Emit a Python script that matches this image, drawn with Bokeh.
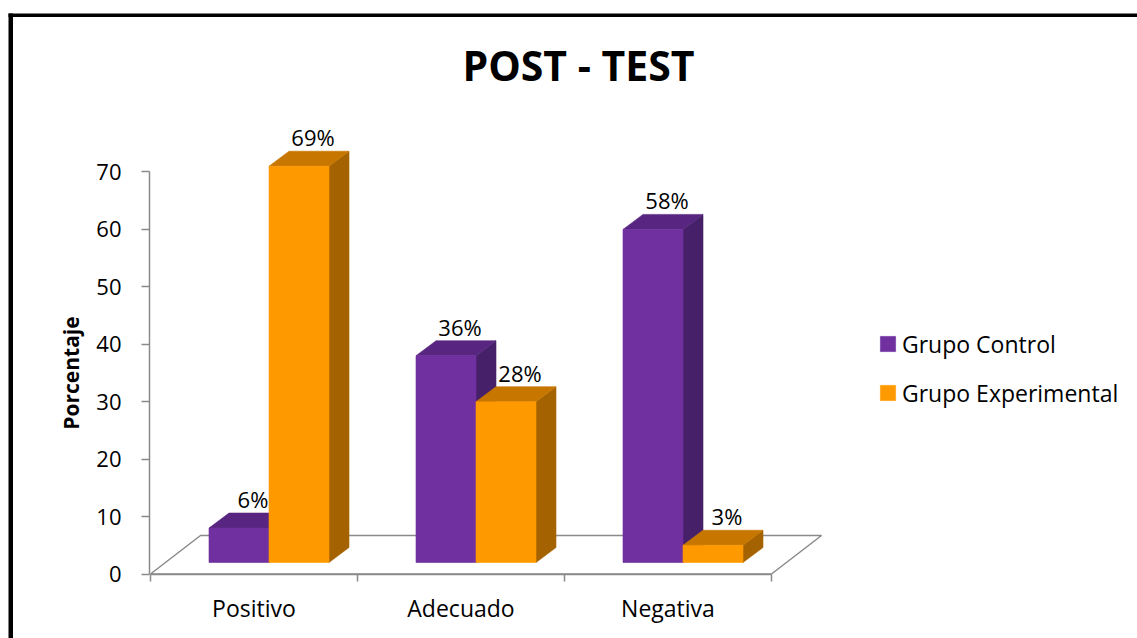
from bokeh.plotting import figure
from bokeh.models import Range1d, LinearAxis, FixedTicker, Label, Legend, LegendItem, ColumnDataSource
from bokeh.embed import file_html
from bokeh.resources import INLINE
from bokeh.core.properties import value

# ---------------- data ----------------
title_text = "POST - TEST"
categories = ["Positivo", "Adecuado", "Negativa"]
series_names = ["Grupo Control", "Grupo Experimental"]
control = [6, 36, 58]
experimental = [69, 28, 3]
y_ticks = [0, 10, 20, 30, 40, 50, 60, 70]
y_label = "Porcentaje"

# ---------------- geometry / style ----------------
W, H = 1137, 638
PAGE = 0
Y0 = 573.5      # page y of value 0
PPU = 5.743     # pixels per value unit
X0 = 150.0      # page x of category axis start
CPX = 207.0     # pixels per category

def xv(px):
    return (px - X0) / CPX

def yv(py):
    return (Y0 - py) / PPU

FONT = "Open Sans"
AXIS_COLOR = "#8a8a8a"
FRONT = ["#7030A0", "#FF9900"]
TOPC = ["#582680", "#C77700"]
SIDE = ["#47206A", "#A46300"]

FD_X = 50 / CPX      # floor depth (x)
FD_Y = 38.5 / PPU    # floor depth (y)
BAR_W = 60 / CPX
SHIFT = 15 / CPX
BASE = 11.5 / PPU
DDX = 20 / CPX
DDY = 15 / PPU
LBL_FS = 22

p = figure(width=W, height=H,
           x_range=Range1d(xv(PAGE), xv(PAGE + W)),
           y_range=Range1d(yv(PAGE + H), yv(PAGE)),
           output_backend="svg", toolbar_location=None,
           x_axis_type=None, y_axis_type=None,
           min_border=0, min_border_left=0, min_border_right=0,
           min_border_top=0, min_border_bottom=0,
           outline_line_color=None, background_fill_color="white",
           border_fill_color="white")

# outer frame (left and top edges visible)
p.quad(left=[xv(8), xv(8)], right=[xv(12.5), xv(PAGE + W)],
       bottom=[yv(PAGE + H), yv(16.5)], top=[yv(13), yv(13)],
       fill_color="black", line_color=None)

# floor of 3D plot
n = len(categories)
p.patch([0, n, n + FD_X, FD_X], [0, 0, FD_Y, FD_Y],
        fill_color=None, line_color=AXIS_COLOR, line_width=1.5)

fronts = []
for j, vals in enumerate([control, experimental]):
    x0 = [i + 0.5 + SHIFT - BAR_W + j * BAR_W for i in range(n)]
    x1 = [a + BAR_W for a in x0]
    tops = [BASE + v for v in vals]
    # side faces
    p.patches([[b, b, b + DDX, b + DDX] for b in x1],
              [[BASE, t, t + DDY, BASE + DDY] for t in tops],
              fill_color=SIDE[j], line_color=SIDE[j], line_width=0.6)
    # top faces
    p.patches([[a, b, b + DDX, a + DDX] for a, b in zip(x0, x1)],
              [[t, t, t + DDY, t + DDY] for t in tops],
              fill_color=TOPC[j], line_color=TOPC[j], line_width=0.6)
    # front faces
    r = p.quad(left=x0, right=x1, bottom=[BASE] * n, top=tops,
               fill_color=FRONT[j], line_color=FRONT[j], line_width=0.6)
    fronts.append(r)
    # data labels (middle of text placed above the top face)
    src = ColumnDataSource(dict(
        x=[(a + b) / 2 + DDX / 2 + 4 / CPX for a, b in zip(x0, x1)],
        y=[t + DDY + (6 + 0.37 * LBL_FS) / PPU for t in tops],
        t=[f"{v}%" for v in vals]))
    p.text(x="x", y="y", text="t", source=src, text_align="center",
           text_baseline="middle", text_font=value(FONT),
           text_font_size=f"{LBL_FS}px", text_color="black")

# y axis
yax = LinearAxis(fixed_location=xv(149), ticker=FixedTicker(ticks=y_ticks),
                 bounds=(y_ticks[0], y_ticks[-1]))
yax.axis_line_color = AXIS_COLOR
yax.axis_line_width = 1.5
yax.major_tick_line_color = AXIS_COLOR
yax.major_tick_line_width = 1.5
yax.major_tick_out = 8
yax.major_tick_in = 0
yax.minor_tick_line_color = None
yax.major_label_text_font = FONT
yax.major_label_text_font_size = "22px"
yax.major_label_text_color = "black"
yax.major_label_standoff = 20
yax.axis_label = y_label
yax.axis_label_text_font = FONT
yax.axis_label_text_font_style = "bold"
yax.axis_label_text_font_size = "21px"
yax.axis_label_text_color = "black"
yax.axis_label_standoff = 8
p.add_layout(yax, "left")

# x axis (ticks at category boundaries)
xax = LinearAxis(fixed_location=0, ticker=FixedTicker(ticks=list(range(n + 1))),
                 bounds=(0, n))
xax.axis_line_color = AXIS_COLOR
xax.axis_line_width = 1.5
xax.major_tick_line_color = AXIS_COLOR
xax.major_tick_line_width = 1.5
xax.major_tick_out = 7
xax.major_tick_in = 0
xax.minor_tick_line_color = None
xax.major_label_text_color = None
p.add_layout(xax, "below")

# category labels
cax = LinearAxis(fixed_location=0, ticker=FixedTicker(ticks=[i + 0.5 for i in range(n)]),
                 major_label_overrides={i + 0.5: c for i, c in enumerate(categories)})
cax.axis_line_color = None
cax.major_tick_line_color = None
cax.minor_tick_line_color = None
cax.major_tick_out = 0
cax.major_tick_in = 0
cax.major_label_standoff = 18
cax.major_label_text_font = FONT
cax.major_label_text_font_size = "23px"
cax.major_label_text_color = "black"
p.add_layout(cax, "below")

# title
TITLE_FS = 41
p.add_layout(Label(x=xv(578), y=yv(79.5 - 0.37 * TITLE_FS), text=title_text, text_align="center",
                   text_baseline="middle", text_font=FONT,
                   text_font_style="bold", text_font_size=f"{TITLE_FS}px", text_color="black"))

# legend
legend = Legend(items=[LegendItem(label=series_names[k], renderers=[fronts[k]]) for k in range(2)],
                location=(878, 229.5), orientation="vertical",
                glyph_width=19, glyph_height=19, label_standoff=5, spacing=17,
                padding=0, margin=0, border_line_color=None, background_fill_alpha=0,
                label_text_font=FONT, label_text_font_size="23px", label_text_color="black")
p.add_layout(legend, "center")

open("out.html", "w").write(file_html(p, INLINE))
